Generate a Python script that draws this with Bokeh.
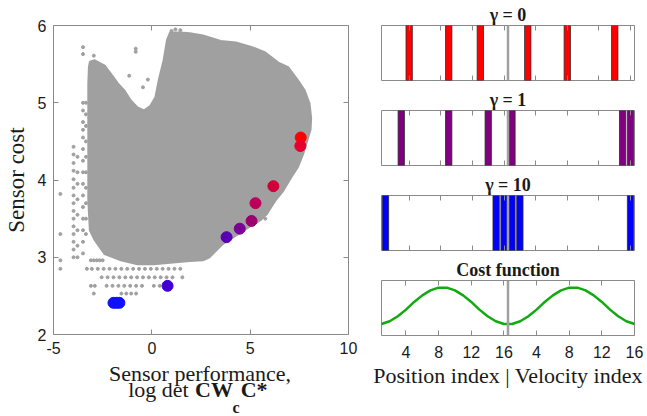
from bokeh.plotting import figure
from bokeh.layouts import row, column
from bokeh.models import Label, Span, LinearAxis, FixedTicker
from bokeh.embed import file_html
from bokeh.resources import INLINE

# ---------------- data ----------------
# outline of the dense grey cloud of all sensor configurations (perf, cost)
cloud_x = [-3.15, -2.9, -2.4, -2.07, -1.73, -1.4, -1.07, -0.73, -0.4, -0.07, 0.18, 0.35, 0.6, 0.77,
           0.93, 1.43, 1.93, 2.6, 3.5, 4.27, 5.1, 5.77, 6.43, 6.93, 7.43, 7.77, 8.02, 8.1, 8.07, 7.95,
           7.7, 7.43, 7.1, 6.68, 6.27, 5.85, 5.52, 4.93, 4.27, 3.6, 2.93, 2.6, 1.93, 0.93, 0.1, -0.73,
           -1.57, -2.4, -2.9, -3.15, -3.23, -3.23, -3.23, -3.2]
cloud_y = [5.53, 5.55, 5.48, 5.37, 5.25, 5.16, 5.03, 4.94, 4.9, 4.96, 5.07, 5.29, 5.55, 5.81,
           5.91, 5.91, 5.9, 5.87, 5.8, 5.78, 5.72, 5.65, 5.52, 5.46, 5.29, 5.16, 4.99, 4.8, 4.65, 4.55,
           4.34, 4.17, 4.04, 3.86, 3.73, 3.56, 3.48, 3.39, 3.28, 3.17, 3.0, 2.96, 2.95, 2.93, 2.91, 2.91,
           2.96, 3.04, 3.22, 3.35, 3.73, 4.6, 5.25, 5.46]

# sparse configurations outside the dense cloud
sparse_x = ([-4.65] * 4 + [-3.98] * 15 + [-3.78] * 8 + [-3.5] * 17 + [-3.35] * 10
            + [-3.1, -2.95, -2.8, -2.65, -2.5]
            + [-3.3, -3.05, -2.75, -2.45, -2.15, -1.85, -1.55, -1.25, -0.95, -0.65, -0.35, -0.05, 0.25, 0.55, 0.85, 1.15, 1.45]
            + [-2.55, -2.25, -1.95, -1.65, -1.35, -1.05, -0.75, -0.45, -0.15, 0.15, 0.45, 0.75, 1.05, 1.55]
            + [-3.1, -2.9, -2.3, -2.0, -1.7, -1.4, -1.1, -0.8, -0.5, 0.1, 0.4]
            + [-2.95, -1.55, -1.3, -1.05, -0.8]
            + [-2.95, -1.15, -0.82, -0.82, -0.45, -0.2, 5.77, 1.0, 1.2, 1.45])
sparse_y = ([3.82, 3.30, 2.96, 2.85]
            + [4.43, 4.33, 4.22, 4.12, 4.01, 3.9, 3.8, 3.7, 3.6, 3.5, 3.4, 3.3, 3.2, 3.1, 3.0]
            + [4.3, 4.1, 3.95, 3.75, 3.55, 3.35, 3.15, 3.0]
            + [5.72, 5.63, 5.0, 4.9, 4.75, 4.65, 4.55, 4.4, 4.25, 4.1, 3.95, 3.8, 3.65, 3.5, 3.35, 3.2, 3.05]
            + [5.0, 4.85, 4.7, 4.5, 4.3, 4.1, 3.9, 3.7, 3.5, 3.3]
            + [2.96] * 5
            + [2.85] * 17
            + [2.74] * 14
            + [2.63] * 11
            + [2.53] * 5
            + [5.61, 5.35, 5.7, 5.66, 5.2, 5.3, 3.5, 5.93, 5.95, 5.94])

# optimal sensor sets along the Pareto front (gamma from 0 to large)
sel_x = [7.57, 7.55, 6.18, 5.27, 5.07, 4.47, 3.80, 0.80, -1.95, -1.80, -1.65]
sel_y = [4.55, 4.44, 3.92, 3.70, 3.47, 3.37, 3.26, 2.63, 2.41, 2.41, 2.41]
sel_colors = ["#FF0000", "#E8002E", "#D0003C", "#BC005A", "#9C006E", "#7C0096",
              "#5A00B4", "#4000D0", "#1010FF", "#1010FF", "#1010FF"]

x_ticks_left = [-5, 0, 5, 10]
y_ticks_left = [2, 3, 4, 5, 6]

# sensor panels (index 1..16 positions, 17..32 velocities)
panel_titles = ["\u03b3 = 0", "\u03b3 = 1", "\u03b3 = 10", "Cost function"]
sensors_g0 = [4, 9, 13, 19, 24, 30]
sensors_g1 = [3, 9, 14, 17, 31, 32]
sensors_g10 = [1, 15, 16, 17, 18, 32]
bar_colors = ["#FF0000", "#800080", "#0000FF"]

index = list(range(1, 33))
cost_position = [0.21, 0.26, 0.35, 0.47, 0.61, 0.73, 0.82, 0.87, 0.87, 0.82, 0.73, 0.61, 0.47, 0.35, 0.26, 0.21]
cost_velocity = [0.21, 0.26, 0.35, 0.47, 0.61, 0.73, 0.82, 0.87, 0.87, 0.82, 0.73, 0.61, 0.47, 0.35, 0.26, 0.21]
right_ticks = [4, 8, 12, 16, 20, 24, 28, 32]
right_tick_labels = ["4", "8", "12", "16", "4", "8", "12", "16"]
divider = 16.5

# ---------------- style ----------------
FRAME = "#8a8a8a"
TXT = "#1a1a1a"
GREY = "#a0a0a0"
SANS = "Liberation Sans"
SERIF = "Liberation Serif"
COMMON = dict(output_backend="svg", toolbar_location=None)


def style_axis(ax, ticks, labels=None, size="16px", standoff=8):
    ax.ticker = FixedTicker(ticks=ticks)
    ax.major_tick_in = 5
    ax.major_tick_out = 0
    ax.minor_tick_line_color = None
    ax.axis_line_color = None
    ax.major_tick_line_color = FRAME
    if labels is None:
        ax.major_label_overrides = {t: "" for t in ticks}
        ax.major_label_text_font_size = "0px"
        ax.major_label_standoff = 0
    else:
        ax.major_label_overrides = {t: l for t, l in zip(ticks, labels)}
        ax.major_label_text_font = SANS
        ax.major_label_text_font_size = size
        ax.major_label_text_color = TXT
        ax.major_label_standoff = standoff


def base(p):
    p.outline_line_color = FRAME
    p.outline_line_width = 1
    p.xgrid.visible = False
    p.ygrid.visible = False
    p.background_fill_color = "white"
    p.border_fill_color = "white"


def text_fig(width, height, x_range, bl, br):
    t = figure(width=width, height=height, x_range=x_range, y_range=(0, height),
               min_border_left=bl, min_border_right=br, min_border_top=0, min_border_bottom=0,
               title=None, x_axis_location=None, y_axis_location=None, **COMMON)
    t.outline_line_color = None
    t.xgrid.visible = False
    t.ygrid.visible = False
    t.background_fill_color = "white"
    t.border_fill_color = "white"
    return t


# ---------------- left scatter ----------------
left = figure(width=370, height=359, x_range=(-5, 10), y_range=(2, 6),
              min_border_left=48, min_border_right=22, min_border_top=25, min_border_bottom=25,
              **COMMON)
base(left)
left.patch(cloud_x, cloud_y, fill_color=GREY, line_color=GREY, line_width=2)
left.scatter(sparse_x, sparse_y, size=3, color=GREY)
left.scatter(sel_x, sel_y, size=11, fill_color=sel_colors, line_color=sel_colors)

style_axis(left.xaxis[0], x_ticks_left, [str(t) for t in x_ticks_left], standoff=7)
style_axis(left.yaxis[0], y_ticks_left, [str(t) for t in y_ticks_left], standoff=7)
left.yaxis[0].axis_label = "Sensor cost"
left.yaxis[0].axis_label_text_font = SERIF
left.yaxis[0].axis_label_text_font_size = "23px"
left.yaxis[0].axis_label_text_font_style = "normal"
left.yaxis[0].axis_label_text_color = TXT
left.yaxis[0].axis_label_standoff = 6
top_ax = LinearAxis()
style_axis(top_ax, x_ticks_left)
left.add_layout(top_ax, "above")
right_ax = LinearAxis()
style_axis(right_ax, y_ticks_left)
left.add_layout(right_ax, "right")

# x label of the scatter (two lines, mixed styles) in a text strip below it
xlab = text_fig(370, 57, (-5, 10), 48, 22)
lab_kw = dict(text_color=TXT, text_baseline="alphabetic", text_font=SERIF, text_align="left")
xlab.add_layout(Label(x=2.45, y=43, text="Sensor performance,", text_font_size="22px",
                      **{**lab_kw, "text_align": "center"}))
xlab.add_layout(Label(x=-1.2, y=27, text="log det", text_font_size="22px", **lab_kw))
xlab.add_layout(Label(x=2.2, y=27, text="CW", text_font_style="bold", text_font_size="22px", **lab_kw))
xlab.add_layout(Label(x=4.1, y=9, text="c", text_font_style="bold", text_font_size="16px", **lab_kw))
xlab.add_layout(Label(x=4.52, y=27, text="C*", text_font_style="bold", text_font_size="22px", **lab_kw))


# ---------------- right panels ----------------
def title_fig(text, height):
    t = text_fig(277, height, (0.5, 32.5), 11, 13)
    t.add_layout(Label(x=divider, y=11, text=text, text_align="center",
                       text_baseline="alphabetic", text_font=SERIF, text_font_style="bold",
                       text_font_size="18px", text_color=TXT))
    return t


def bar_panel(sensors, color):
    p = figure(width=277, height=65, x_range=(0.5, 32.5), y_range=(0, 1),
               min_border_left=11, min_border_right=13, min_border_top=0,
               min_border_bottom=10, y_axis_location=None, **COMMON)
    base(p)
    p.vbar(x=sensors, width=0.8, top=1, bottom=0, fill_color=color,
           line_color="#2a2a2a", line_width=0.8)
    p.add_layout(Span(location=divider, dimension="height", line_color=GREY, line_width=2.5))
    style_axis(p.xaxis[0], right_ticks)
    ta = LinearAxis()
    style_axis(ta, right_ticks)
    p.add_layout(ta, "above")
    return p


t1 = title_fig(panel_titles[0], 25)
f1 = bar_panel(sensors_g0, bar_colors[0])
t2 = title_fig(panel_titles[1], 20)
f2 = bar_panel(sensors_g1, bar_colors[1])
t3 = title_fig(panel_titles[2], 20)
f3 = bar_panel(sensors_g10, bar_colors[2])
t4 = title_fig(panel_titles[3], 20)

f4 = figure(width=277, height=136, x_range=(1, 32), y_range=(0, 1),
            min_border_left=11, min_border_right=13, min_border_top=0, min_border_bottom=81,
            y_axis_location=None, **COMMON)
base(f4)
f4.line(index, cost_position + cost_velocity, line_color="#11AA11", line_width=2.5)
f4.add_layout(Span(location=divider, dimension="height", line_color=GREY, line_width=2.5))
style_axis(f4.xaxis[0], right_ticks, right_tick_labels, standoff=10)
f4.xaxis[0].axis_label = "Position index | Velocity index"
f4.xaxis[0].axis_label_text_font = SERIF
f4.xaxis[0].axis_label_text_font_size = "22px"
f4.xaxis[0].axis_label_text_font_style = "normal"
f4.xaxis[0].axis_label_text_color = TXT
f4.xaxis[0].axis_label_standoff = 2
ta4 = LinearAxis()
style_axis(ta4, right_ticks)
f4.add_layout(ta4, "above")

layout = row(column(left, xlab), column(t1, f1, t2, f2, t3, f3, t4, f4))

open("out.html", "w").write(file_html(layout, INLINE))
